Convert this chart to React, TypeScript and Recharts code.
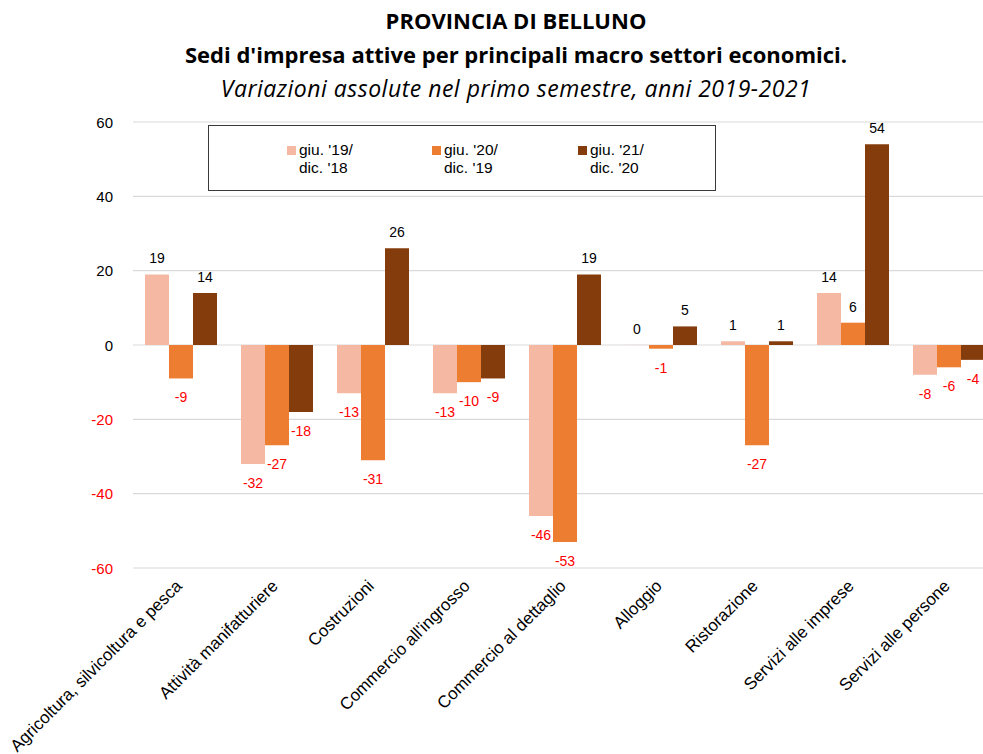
import React from 'react';
import {
  BarChart, Bar, XAxis, YAxis, CartesianGrid, Legend, LabelList,
} from 'recharts';

const CATEGORIES = [
  'Agricoltura, silvicoltura e pesca',
  'Attività manifatturiere',
  'Costruzioni',
  "Commercio all'ingrosso",
  'Commercio al dettaglio',
  'Alloggio',
  'Ristorazione',
  'Servizi alle imprese',
  'Servizi alle persone',
];

const VAR_2019 = [19, -32, -13, -13, -46, 0, 1, 14, -8];
const VAR_2020 = [-9, -27, -31, -10, -53, -1, -27, 6, -6];
const VAR_2021 = [14, -18, 26, -9, 19, 5, 1, 54, -4];

const SERIES_NAMES = ["giu. '19/\ndic. '18", "giu. '20/\ndic. '19", "giu. '21/\ndic. '20"];
const Y_TICKS = [-60, -40, -20, 0, 20, 40, 60];

const COLORS = ['#f4b8a3', '#ed7d31', '#843c0c'];
const RED = '#ff0000';
const FONT = '"Liberation Sans", Arial, sans-serif';
const TITLE_FONT = '"Open Sans", Lato, sans-serif';

const data = CATEGORIES.map((name, i) => ({
  name,
  v19: VAR_2019[i],
  v20: VAR_2020[i],
  v21: VAR_2021[i],
}));

// barre a zero: altezza quasi nulla, così l'etichetta "0" viene comunque disegnata
const minSize = (v: number) => (v === 0 ? 0.1 : 0);

// etichette dei valori: sopra se positivo, sotto (rosso) se negativo
const ValueLabel = (props: any) => {
  const { x, y, width, height, value } = props;
  if (value === null || value === undefined) return null;
  const v = Number(value);
  const cx = Number(x) + Number(width) / 2;
  const top = Math.min(Number(y), Number(y) + Number(height));
  const bottom = Math.max(Number(y), Number(y) + Number(height));
  const neg = v < 0;
  return (
    <text
      x={cx}
      y={neg ? bottom + 19 : top - 16}
      textAnchor="middle"
      dominantBaseline="central"
      fill={neg ? RED : '#000'}
      fontSize={14}
      fontFamily={FONT}
    >
      {v}
    </text>
  );
};

const YTick = (props: any) => {
  const { x, y, payload } = props;
  const v = Number(payload.value);
  return (
    <text x={x} y={y} textAnchor="end" dominantBaseline="central" fontSize={15}
      fontFamily={FONT} fill={v < 0 ? RED : '#000'}>
      {v}
    </text>
  );
};

const XTick = (props: any) => {
  const { x, y, payload } = props;
  const tx = Number(x) + 2;
  const ty = Number(y) + 11;
  return (
    <text x={tx} y={ty} textAnchor="end" fontSize={17} fontFamily={FONT} fill="#000"
      transform={`rotate(-45, ${tx}, ${ty})`}>
      {payload.value}
    </text>
  );
};

const LEGEND_LEFT = [78, 223, 369];

const LegendBox = (props: any) => {
  const payload = props.payload || [];
  return (
    <div style={{
      position: 'relative', width: 508, height: 66, boxSizing: 'border-box',
      border: '1px solid #3a3a3a', background: '#fff', fontFamily: FONT, fontSize: 15.5,
    }}>
      {payload.map((p: any, i: number) => (
        <div key={i} style={{ position: 'absolute', left: LEGEND_LEFT[i], top: 15, display: 'flex' }}>
          <span style={{ width: 9, height: 9, background: p.color, marginTop: 5, marginRight: 3 }} />
          <span style={{ whiteSpace: 'pre-line', lineHeight: '18px', color: '#000' }}>{p.value}</span>
        </div>
      ))}
    </div>
  );
};

export default function App() {
  return (
    <div style={{ position: 'absolute', left: 0, top: 0, width: 983, height: 754, overflow: 'hidden', background: '#fff' }}>
      <div style={{ position: 'absolute', left: 0, width: 1032, top: 6, textAlign: 'center', fontFamily: TITLE_FONT, color: '#000' }}>
        <div style={{ fontWeight: 700, fontSize: 22, height: 34, lineHeight: '28px' }}>PROVINCIA DI BELLUNO</div>
        <div style={{ fontWeight: 700, fontSize: 22, height: 34, lineHeight: '28px' }}>Sedi d'impresa attive per principali macro settori economici.</div>
        <div style={{ fontStyle: 'italic', fontSize: 23, letterSpacing: 0.5, lineHeight: '28px' }}>Variazioni assolute nel primo semestre, anni 2019-2021</div>
      </div>
      <div style={{ position: 'absolute', left: 0, top: 0 }}>
        <BarChart
          width={1000}
          height={754}
          data={data}
          margin={{ top: 122, right: 3, bottom: 0, left: 0 }}
          barGap={0}
          barCategoryGap={12}
        >
          <CartesianGrid vertical={false} stroke="#d9d9d9" strokeWidth={1.2} />
          <XAxis dataKey="name" height={186} interval={0} axisLine={false} tickLine={false} tick={<XTick />} />
          <YAxis width={133} domain={[-60, 60]} ticks={Y_TICKS} axisLine={false} tickLine={false}
            tickSize={0} tickMargin={20} tick={<YTick />} />
          <Legend
            layout="horizontal"
            verticalAlign="middle"
            align="center"
            content={<LegendBox />}
            wrapperStyle={{ position: 'absolute', left: 208, top: 125, width: 508, height: 66 }}
          />
          <Bar dataKey="v19" name={SERIES_NAMES[0]} fill={COLORS[0]} minPointSize={minSize} isAnimationActive={false}>
            <LabelList dataKey="v19" content={<ValueLabel />} />
          </Bar>
          <Bar dataKey="v20" name={SERIES_NAMES[1]} fill={COLORS[1]} minPointSize={minSize} isAnimationActive={false}>
            <LabelList dataKey="v20" content={<ValueLabel />} />
          </Bar>
          <Bar dataKey="v21" name={SERIES_NAMES[2]} fill={COLORS[2]} minPointSize={minSize} isAnimationActive={false}>
            <LabelList dataKey="v21" content={<ValueLabel />} />
          </Bar>
        </BarChart>
      </div>
    </div>
  );
}
